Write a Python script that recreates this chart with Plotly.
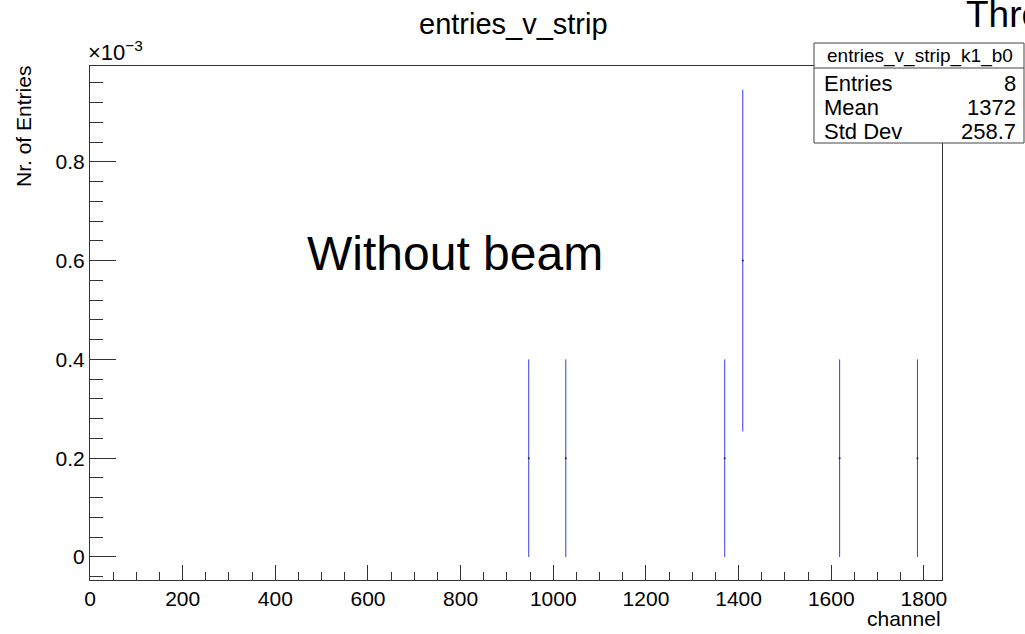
import plotly.graph_objects as go

# ---- data ----
x_channel = [947, 1027, 1370, 1409, 1618, 1786]
y_entries = [0.0002, 0.0002, 0.0002, 0.0006, 0.0002, 0.0002]
y_errors = [0.0002, 0.0002, 0.0002, 0.000346, 0.0002, 0.0002]

y_tickvals = [0, 0.0002, 0.0004, 0.0006, 0.0008]
y_ticktext = ["0", "0.2", "0.4", "0.6", "0.8"]
x_tickvals = [0, 200, 400, 600, 800, 1000, 1200, 1400, 1600, 1800]

stats_name = "entries_v_strip_k1_b0"
stats_labels = ["Entries", "Mean", "Std Dev"]
stats_values = ["8", "1372", "258.7"]

# ---- layout geometry (pixels) ----
W, H = 1025, 634
L, R, T, B = 90, 942, 66, 580
FONT = "Liberation Sans, Arial, sans-serif"


def px(x):
    return (x - L) / (R - L)


def py(y):
    return (B - y) / (B - T)


fig = go.Figure()
fig.add_trace(go.Scatter(
    x=x_channel, y=y_entries, mode="markers",
    marker=dict(size=2, color="#222"),
    error_y=dict(type="data", array=y_errors, visible=True,
                 color="#3a3ae0", thickness=1, width=0),
    showlegend=False, hoverinfo="x+y",
))

annotations = [
    dict(text="entries_v_strip", x=px(513), y=py(24), xanchor="center", yanchor="middle",
         font=dict(size=29)),
    dict(text="Without beam", x=px(455), y=py(253), xanchor="center", yanchor="middle",
         font=dict(size=48)),
    dict(text="Three", x=px(964), y=py(15), xanchor="left", yanchor="middle",
         font=dict(size=37)),
    dict(text="Nr. of Entries", x=px(23), y=py(127), xanchor="center", yanchor="middle",
         textangle=-90, font=dict(size=21)),
    dict(text="channel", x=px(943), y=py(618), xanchor="right", yanchor="middle",
         font=dict(size=21)),
    dict(text="×10<sup>−3</sup>", x=px(86), y=py(67), xanchor="left", yanchor="bottom",
         font=dict(size=22)),
    dict(text=stats_name, x=px(920), y=py(56), xanchor="center", yanchor="middle",
         font=dict(size=19)),
]
row_y = [83, 107, 131]
for lab, val, ry in zip(stats_labels, stats_values, row_y):
    annotations.append(dict(text=lab, x=px(822), y=py(ry), xanchor="left", yanchor="middle",
                            font=dict(size=22)))
    annotations.append(dict(text=val, x=px(1018), y=py(ry), xanchor="right", yanchor="middle",
                            font=dict(size=22)))
for a in annotations:
    a.update(xref="paper", yref="paper", showarrow=False)
    a["font"].update(color="black")
    a["font"].setdefault("family", FONT)

shapes = [
    dict(type="rect", xref="paper", yref="paper", x0=px(814), x1=px(1024), y0=py(143), y1=py(43),
         line=dict(color="#444", width=1), fillcolor="white", layer="above"),
    dict(type="line", xref="paper", yref="paper", x0=px(814), x1=px(1024), y0=py(68), y1=py(68),
         line=dict(color="#444", width=1), layer="above"),
]

fig.update_layout(
    width=W, height=H,
    margin=dict(l=L, r=W - R, t=T, b=H - B, pad=0),
    paper_bgcolor="white", plot_bgcolor="white",
    font=dict(family=FONT, color="black"),
    annotations=annotations, shapes=shapes,
    xaxis=dict(range=[0, 1839], showgrid=False, zeroline=False,
               showline=True, linecolor="#333", linewidth=1, mirror=True,
               ticks="inside", ticklen=15, tickcolor="#333",
               tickvals=x_tickvals, tickfont=dict(size=21),
               minor=dict(ticks="inside", ticklen=8, dtick=50, tick0=0, tickcolor="#333")),
    yaxis=dict(range=[-0.0000466, 0.000994], showgrid=False, zeroline=False,
               showline=True, linecolor="#333", linewidth=1, mirror=True,
               ticks="inside", ticklen=26, tickcolor="#333",
               tickvals=y_tickvals, ticktext=y_ticktext, tickfont=dict(size=21),
               minor=dict(ticks="inside", ticklen=13, dtick=0.00004, tick0=0, tickcolor="#333")),
)

fig.write_html("out.html")
